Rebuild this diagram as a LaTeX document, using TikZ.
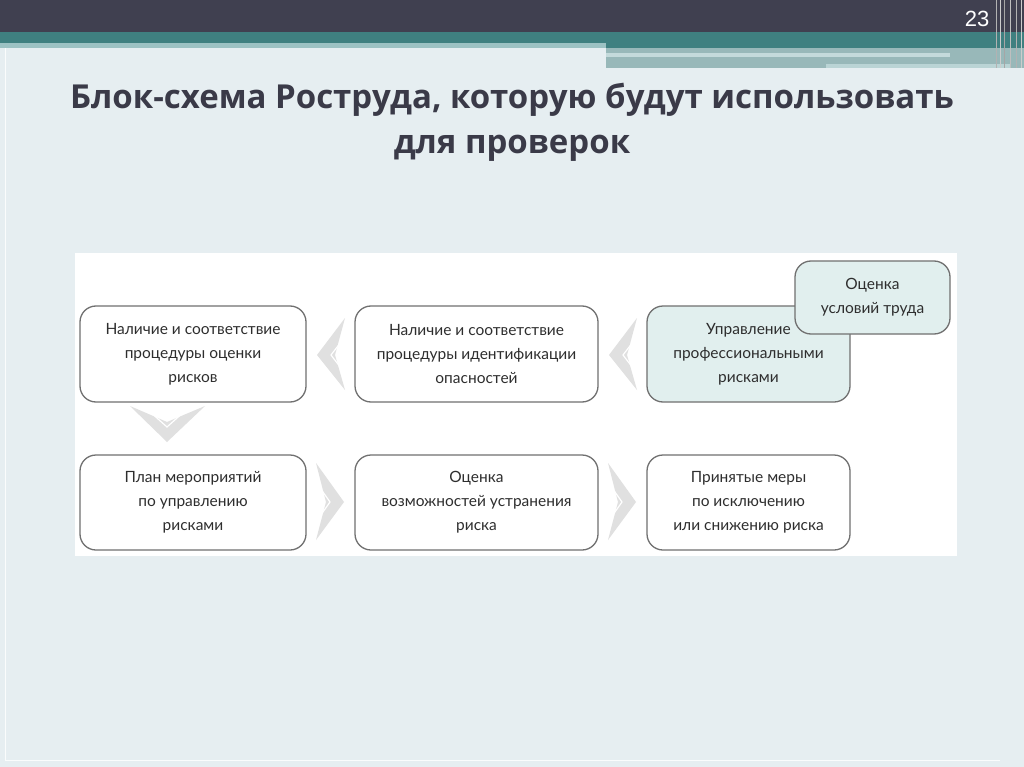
\documentclass[tikz,border=0pt]{standalone}
\usepackage{fontspec}
\setmainfont{Lato}
\newfontfamily\titlefont{Open Sans}
\newfontfamily\numfont{Liberation Sans}
\begin{document}
\begin{tikzpicture}[x=1pt,y=-1pt,
  box/.style={draw=boxline,line width=1.3pt,rounded corners=16pt,fill=white,
    align=center,font=\fontsize{15.5}{24}\selectfont,text=boxtext,inner sep=0pt},
  tealbox/.style={box,fill=boxfill},
  chev/.style={fill=chevgrey,draw=none},
  chevline/.style={draw=white,line width=1.2pt}]
\definecolor{slidebg}{HTML}{E6EEF1}
\definecolor{topdark}{HTML}{404050}
\definecolor{teal}{HTML}{3F8080}
\definecolor{lteal}{HTML}{9CC2C3}
\definecolor{gteal}{HTML}{98B8B9}
\definecolor{titlecol}{HTML}{3A3A48}
\definecolor{boxline}{HTML}{707070}
\definecolor{boxtext}{HTML}{2E2E2E}
\definecolor{boxfill}{HTML}{E1EFEE}
\definecolor{chevgrey}{HTML}{E0E0E0}
\useasboundingbox (0,0) rectangle (1024,767);
% slide background
\fill[slidebg] (0,0) rectangle (1024,767);
\draw[white!80!slidebg,line width=1pt] (5,48) -- (5,760) -- (1000,760);
% header bands
\fill[topdark] (0,0) rectangle (1024,32);
\fill[teal] (0,32) rectangle (1024,48);
\fill[lteal] (0,43) rectangle (606,48);
\fill[gteal] (606,48) rectangle (1024,68);
\fill[lteal!60!white] (606,53) rectangle (950,57);
\fill[lteal!70!white] (826,64) rectangle (1010,68);
\foreach \xx/\cc in {996/gray!60,1000/gray!40,1004/gray!70,1010/gray!50,1016/gray!60,1021/gray!40}
  \draw[\cc,line width=1pt] (\xx,0) -- (\xx,68);
\node[text=white,font=\fontsize{22}{22}\selectfont\numfont] (num) at (977,19) {23};
% title
\node[text=titlecol,font=\fontsize{33}{45}\selectfont\titlefont\bfseries,align=center] (title) at (512,122)
  {Блок-схема Роструда, которую будут использовать\\для проверок};
% white panel
\fill[white] (75,253) rectangle (957,556);
% chevrons
\fill[chev] (345,318) -- (317,355) -- (345,390) -- (335,355) -- cycle;
\draw[chevline] (344,338) -- (331,355) -- (344,372);
\fill[chev] (637,318) -- (609,355) -- (637,390) -- (627,355) -- cycle;
\draw[chevline] (636,338) -- (623,355) -- (636,372);
\fill[chev] (130,406) -- (167,442) -- (205,406) -- (167,422) -- cycle;
\draw[chevline] (148,410) -- (167,427) -- (186,410);
\fill[chev] (316,463) -- (344,502) -- (316,540) -- (326,502) -- cycle;
\draw[chevline] (318,485) -- (330,502) -- (318,519);
\fill[chev] (608,463) -- (636,502) -- (608,540) -- (618,502) -- cycle;
\draw[chevline] (610,485) -- (622,502) -- (610,519);
% boxes
\node[box,minimum width=226pt,minimum height=96pt] (b1) at (193,354)
  {Наличие и соответствие\\процедуры оценки\\рисков};
\node[box,minimum width=243pt,minimum height=96pt] (b2) at (476.5,354)
  {Наличие и соответствие\\процедуры идентификации\\опасностей};
\node[tealbox,minimum width=203pt,minimum height=96pt] (b3) at (748.5,354)
  {Управление\\профессиональными\\рисками};
\node[tealbox,minimum width=155pt,minimum height=73pt] (b4) at (872.5,297.5)
  {Оценка\\условий труда};
\node[box,minimum width=226pt,minimum height=95pt] (b5) at (193,502.5)
  {План мероприятий\\по управлению\\рисками};
\node[box,minimum width=243pt,minimum height=95pt] (b6) at (476.5,502.5)
  {Оценка\\возможностей устранения\\риска};
\node[box,minimum width=203pt,minimum height=95pt] (b7) at (748.5,502.5)
  {Принятые меры\\по исключению\\или снижению риска};
\end{tikzpicture}
\end{document}
